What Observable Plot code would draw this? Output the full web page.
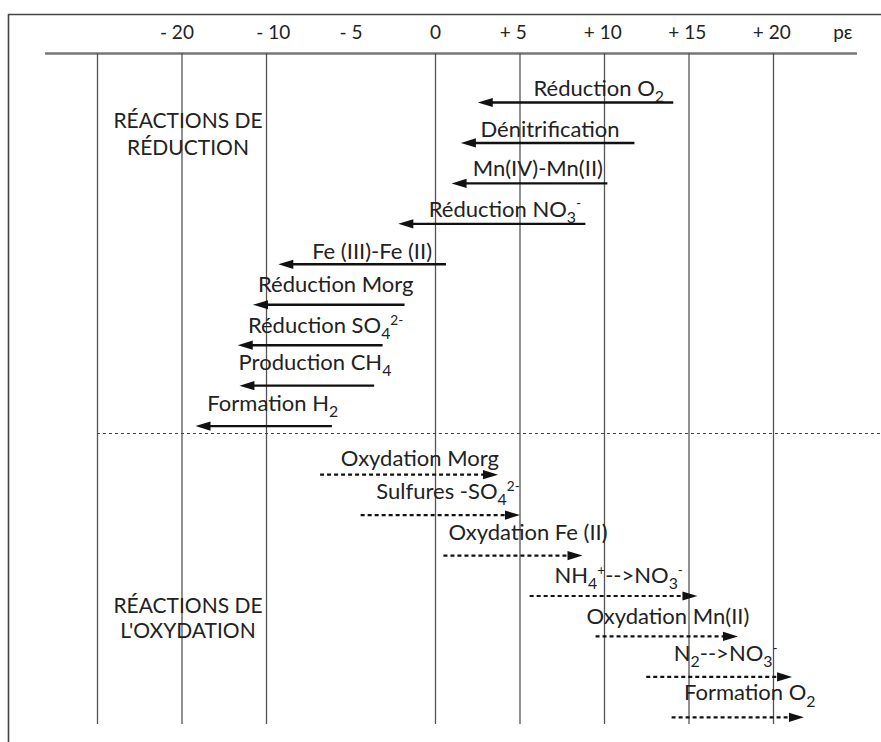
<!DOCTYPE html>
<html><head><meta charset="utf-8">
<script src="https://cdn.jsdelivr.net/npm/d3@7"></script>
<script src="https://cdn.jsdelivr.net/npm/@observablehq/plot@0.6"></script>
<style>
  body { margin: 0; background: #fff; }
  #chart svg { display: block; }
</style>
</head><body>
<div id="chart"></div>
<script>
// ---------------- DATA (pε values) ----------------
const reductionNames = ["Réduction O_{2}", "Dénitrification", "Mn(IV)-Mn(II)", "Réduction NO_{3}^{-}",
  "Fe (III)-Fe (II)", "Réduction Morg", "Réduction SO_{4}^{2-}", "Production CH_{4}", "Formation H_{2}"];
const reductionFrom = [14.1, 11.8, 10.2, 8.9, 0.65, -1.8, -3.1, -3.6, -6.1];
const reductionTo   = [2.5, 1.5, 0.95, -2.2, -9.3, -10.8, -11.7, -11.6, -14.2];

const oxidationNames = ["Oxydation Morg", "Sulfures -SO_{4}^{2-}", "Oxydation Fe (II)", "NH_{4}^{+}-->NO_{3}^{-}",
  "Oxydation Mn(II)", "N_{2}-->NO_{3}^{-}", "Formation O_{2}"];
const oxidationFrom = [-6.8, -4.4, 0.5, 5.6, 9.5, 12.5, 14.0];
const oxidationTo   = [3.7, 5.0, 8.7, 15.5, 17.9, 21.1, 21.8];

const gridValues = [-20, -15, -10, 0, 5, 10, 15, 20];
const tickLabels = ["- 20", "- 10", "- 5", "0", "+ 5", "+ 10", "+ 15", "+ 20", "pε"];
const tickAt     = [-15.3, -9.6, -5.0, 0, 4.6, 9.9, 14.9, 19.9, 24.1];

const sectionReduction = ["RÉACTIONS DE", "RÉDUCTION"];
const sectionOxidation = ["RÉACTIONS DE", "L'OXYDATION"];

// ---------------- LAYOUT ----------------
const W = 881, H = 742;
const X0 = 435, PE = 16.9;       // px of pε = 0, px per pε unit
const Y0 = 102, ROW = 40.45;     // px of first row, px per row
const OX_START = 9.2;            // first oxidation row (group gap)
const peOf = px => (px - X0) / PE;
const rowOf = px => (px - Y0) / ROW;

const redLabelLeft = [5.8, 2.66, 2.2, -0.4, -7.3, -10.5, -11.1, -11.65, -13.5];
const oxLabelLeft  = [-5.6, -3.5, 0.77, 7.04, 8.93, 14.1, 14.7];
const redLabelDy = [-7, -6, -7, -7, -5, -13, -12, -16, -15];
const oxLabelDy  = [-9, -16, -16, -13, -12, -16, -17];

const FONT = "Lato, 'Noto Sans', sans-serif";
const LABEL_SIZE = 22;
const HEAD_LEN = 15 / PE;      // arrowhead length in pε
const HEAD_HALF = 4.6 / ROW;   // arrowhead half-height in rows

const reactions = [
  ...reductionNames.map((name, i) => ({name, from: reductionFrom[i], to: reductionTo[i], row: i,
     labelX: redLabelLeft[i], labelDy: redLabelDy[i], kind: "red"})),
  ...oxidationNames.map((name, i) => ({name, from: oxidationFrom[i], to: oxidationTo[i], row: OX_START + i,
     labelX: oxLabelLeft[i], labelDy: oxLabelDy[i], kind: "ox"}))
];
const reds = reactions.filter(d => d.kind === "red");
const oxs = reactions.filter(d => d.kind === "ox");

const heads = reactions.flatMap((d, k) => {
  const dir = Math.sign(d.to - d.from);
  return [
    {id: k, x: d.to, y: d.row},
    {id: k, x: d.to - dir * HEAD_LEN, y: d.row - HEAD_HALF},
    {id: k, x: d.to - dir * HEAD_LEN, y: d.row + HEAD_HALF},
    {id: k, x: d.to, y: d.row}
  ];
});

const sectionRows = [
  ...sectionReduction.map((t, i) => ({t, y: rowOf([127, 154][i])})),
  ...sectionOxidation.map((t, i) => ({t, y: rowOf([612, 637][i])}))
];

const chart = Plot.plot({
  width: W, height: H,
  marginTop: 0, marginRight: 0, marginBottom: 0, marginLeft: 0,
  x: {domain: [peOf(0), peOf(W)], range: [0, W], axis: null},
  y: {domain: [rowOf(0), rowOf(H)], range: [0, H], axis: null},
  style: {background: "#fff", fontFamily: FONT},
  marks: [
    // frame
    Plot.ruleY([rowOf(14)], {x1: peOf(8), x2: peOf(W), stroke: "#444", strokeWidth: 1.6}),
    Plot.ruleX([peOf(8)], {y1: rowOf(14), y2: rowOf(H), stroke: "#444", strokeWidth: 1.6}),
    Plot.ruleY([rowOf(53)], {x1: peOf(45), x2: peOf(857), stroke: "#777", strokeWidth: 2.6}),
    // grid lines
    Plot.ruleX(gridValues, {y1: rowOf(53), y2: rowOf(724), stroke: "#555", strokeWidth: 1.3}),
    // separator
    Plot.ruleY([rowOf(433)], {x1: -20, x2: peOf(W), stroke: "#444", strokeWidth: 1, strokeDasharray: "3,3"}),
    // tick labels
    Plot.text(tickLabels, {x: (d, i) => tickAt[i], y: rowOf(38), text: d => d, fontSize: 19,
      lineAnchor: "bottom", textAnchor: "middle", fill: "#222", fontFamily: FONT}),
    // section labels
    Plot.text(sectionRows, {x: peOf(187.5), y: "y", text: "t", fontSize: 21, lineAnchor: "bottom",
      textAnchor: "middle", fill: "#222", fontFamily: FONT}),
    // shafts
    Plot.ruleY(reds, {y: "row", x1: "from", x2: d => d.to + HEAD_LEN * 0.8, stroke: "#111", strokeWidth: 2.4}),
    Plot.ruleY(oxs, {y: "row", x1: "from", x2: d => d.to - HEAD_LEN * 0.8, stroke: "#111", strokeWidth: 2.2,
      strokeDasharray: "4,3"}),
    // arrowheads
    Plot.line(heads, {x: "x", y: "y", z: "id", fill: "#111", stroke: "none"}),
    // reaction labels
    Plot.text(reactions, {x: "labelX", y: d => d.row + d.labelDy / ROW, text: "name", fontSize: LABEL_SIZE,
      lineAnchor: "bottom", textAnchor: "start", fill: "#222", fontFamily: FONT})
  ]
});

document.getElementById("chart").appendChild(chart);

// rich text: _{sub}, ^{sup}
const SVGNS = "http://www.w3.org/2000/svg";
chart.querySelectorAll("text").forEach(el => {
  const s = el.textContent;
  if (!/[_^]\{/.test(s)) return;
  const fs = parseFloat(getComputedStyle(el).fontSize) || LABEL_SIZE;
  const parts = [];
  const re = /([_^])\{([^}]*)\}/g;
  let last = 0, m;
  while ((m = re.exec(s))) {
    if (m.index > last) parts.push({t: s.slice(last, m.index), k: "n"});
    parts.push({t: m[2], k: m[1]});
    last = re.lastIndex;
  }
  if (last < s.length) parts.push({t: s.slice(last), k: "n"});
  el.textContent = "";
  let shift = 0;
  for (const p of parts) {
    const ts = document.createElementNS(SVGNS, "tspan");
    ts.textContent = p.t;
    let target = 0;
    if (p.k === "_") { target = fs * 0.28; ts.setAttribute("font-size", fs * 0.72); }
    else if (p.k === "^") { target = -fs * 0.38; ts.setAttribute("font-size", fs * 0.62); }
    if (target !== shift) ts.setAttribute("dy", target - shift);
    shift = target;
    el.appendChild(ts);
  }
});
</script>
</body></html>
